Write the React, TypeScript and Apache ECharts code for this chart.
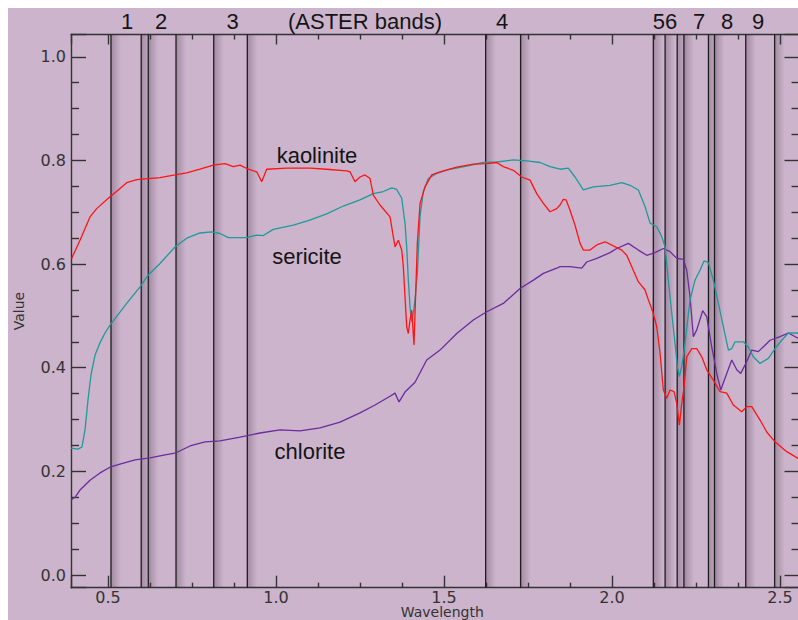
import React, { useEffect, useRef } from "react";
import * as echarts from "echarts";

// ---- data ----
const wavelengthTickStep = 0.5;
const valueTickStep = 0.2;
const minorSplit = 4;

const asterBandEdges = [0.509, 0.599, 0.62, 0.7025, 0.8147, 0.9147, 1.624, 1.728, 2.123, 2.158, 2.194, 2.214, 2.287, 2.305, 2.398, 2.484];
const asterBandNames = ["1", "2", "3", "(ASTER bands)", "4", "56", "7", "8", "9"];
const mineralNames = ["kaolinite", "sericite", "chlorite"];

const kaolinite = [
  [0.392, 0.611], [0.4168, 0.646], [0.4465, 0.691], [0.4665, 0.707], [0.506, 0.73], [0.5308, 0.743],
  [0.5558, 0.757], [0.5855, 0.763], [0.62, 0.765], [0.655, 0.767], [0.6995, 0.772], [0.7343, 0.776],
  [0.7739, 0.783], [0.8135, 0.791], [0.8483, 0.794], [0.873, 0.788], [0.893, 0.791], [0.9177, 0.783],
  [0.9427, 0.778], [0.9576, 0.759], [0.9724, 0.783], [1.032, 0.785], [1.1013, 0.785], [1.151, 0.783],
  [1.2105, 0.78], [1.2204, 0.778], [1.2352, 0.759], [1.2501, 0.768], [1.265, 0.772], [1.2799, 0.765],
  [1.2897, 0.733], [1.3096, 0.714], [1.3394, 0.691], [1.3492, 0.653], [1.3543, 0.633], [1.3641, 0.646],
  [1.3742, 0.627], [1.379, 0.595], [1.384, 0.537], [1.389, 0.479], [1.3939, 0.466], [1.3989, 0.492],
  [1.404, 0.511], [1.4108, 0.444], [1.4138, 0.505], [1.4207, 0.64], [1.4287, 0.717], [1.4436, 0.749],
  [1.4635, 0.772], [1.4882, 0.778], [1.5379, 0.787], [1.5873, 0.793], [1.6272, 0.794], [1.657, 0.796],
  [1.6766, 0.788], [1.7064, 0.781], [1.7314, 0.768], [1.7561, 0.762], [1.776, 0.736], [1.7957, 0.717],
  [1.8156, 0.701], [1.8355, 0.707], [1.8454, 0.714], [1.8552, 0.725], [1.8632, 0.724], [1.8751, 0.704],
  [1.89, 0.675], [1.9049, 0.64], [1.9147, 0.627], [1.9346, 0.627], [1.9546, 0.637], [1.9793, 0.643],
  [2.004, 0.635], [2.029, 0.627], [2.0439, 0.617], [2.0588, 0.595], [2.0784, 0.566], [2.0983, 0.55],
  [2.1082, 0.531], [2.1213, 0.508], [2.1332, 0.479], [2.143, 0.428], [2.1528, 0.357], [2.1629, 0.341],
  [2.1727, 0.357], [2.1846, 0.354], [2.1927, 0.331], [2.2004, 0.289], [2.2076, 0.331], [2.2144, 0.363],
  [2.2224, 0.421], [2.2373, 0.437], [2.2522, 0.437], [2.2671, 0.421], [2.282, 0.396], [2.3016, 0.376],
  [2.3215, 0.354], [2.3415, 0.351], [2.3611, 0.328], [2.3861, 0.315], [2.401, 0.325], [2.4159, 0.325],
  [2.4406, 0.299], [2.4605, 0.276], [2.4852, 0.257], [2.52, 0.238], [2.5537, 0.225],
];

const sericite = [
  [0.39, 0.245], [0.4108, 0.243], [0.4227, 0.247], [0.4317, 0.28], [0.4406, 0.338], [0.4495, 0.386],
  [0.4614, 0.424], [0.4763, 0.448], [0.4912, 0.467], [0.5061, 0.482], [0.5558, 0.524], [0.5954, 0.556],
  [0.62, 0.579], [0.6549, 0.601], [0.6995, 0.633], [0.7343, 0.65], [0.7739, 0.66], [0.8088, 0.662],
  [0.8335, 0.659], [0.8582, 0.651], [0.9129, 0.651], [0.9427, 0.656], [0.9623, 0.655], [0.9921, 0.667],
  [1.0516, 0.675], [1.0963, 0.684], [1.151, 0.697], [1.2004, 0.712], [1.2501, 0.724], [1.2897, 0.736],
  [1.3195, 0.74], [1.3445, 0.747], [1.3593, 0.744], [1.3742, 0.727], [1.384, 0.679], [1.389, 0.633],
  [1.3939, 0.569], [1.3989, 0.518], [1.404, 0.489], [1.4088, 0.505], [1.4138, 0.531], [1.4207, 0.582],
  [1.4287, 0.691], [1.4385, 0.74], [1.4534, 0.765], [1.4784, 0.775], [1.518, 0.783], [1.5677, 0.789],
  [1.6171, 0.796], [1.657, 0.797], [1.7064, 0.801], [1.7463, 0.799], [1.7859, 0.796], [1.8156, 0.788],
  [1.8454, 0.783], [1.87, 0.785], [1.89, 0.768], [1.9147, 0.743], [1.9445, 0.749], [1.9942, 0.752],
  [2.029, 0.757], [2.0537, 0.752], [2.0784, 0.743], [2.0983, 0.711], [2.1133, 0.679], [2.1332, 0.672],
  [2.148, 0.653], [2.1579, 0.633], [2.1677, 0.569], [2.1778, 0.505], [2.1876, 0.447], [2.1945, 0.402],
  [2.2004, 0.383], [2.2076, 0.402], [2.2173, 0.447], [2.2322, 0.531], [2.2471, 0.569], [2.2619, 0.588],
  [2.2739, 0.606], [2.2867, 0.603], [2.3016, 0.569], [2.3166, 0.524], [2.3315, 0.479], [2.3464, 0.434],
  [2.3564, 0.437], [2.3662, 0.45], [2.3911, 0.45], [2.4058, 0.44], [2.4207, 0.421], [2.4406, 0.408],
  [2.4653, 0.418], [2.4852, 0.437], [2.5051, 0.453], [2.5248, 0.467], [2.5537, 0.467],
];

const chlorite = [
  [0.39, 0.145], [0.4019, 0.15], [0.4168, 0.164], [0.4465, 0.183], [0.4763, 0.197], [0.5061, 0.208],
  [0.5358, 0.214], [0.5805, 0.222], [0.6251, 0.226], [0.6698, 0.232], [0.6995, 0.235], [0.7442, 0.249],
  [0.7888, 0.257], [0.8335, 0.259], [0.893, 0.266], [0.9525, 0.274], [1.012, 0.28], [1.0715, 0.278],
  [1.1311, 0.284], [1.1906, 0.295], [1.2501, 0.313], [1.2948, 0.328], [1.3394, 0.345], [1.3543, 0.351],
  [1.3662, 0.334], [1.384, 0.353], [1.4138, 0.372], [1.4486, 0.415], [1.4882, 0.434], [1.5379, 0.466],
  [1.5873, 0.492], [1.6272, 0.508], [1.6766, 0.524], [1.7263, 0.553], [1.7661, 0.569], [1.7957, 0.582],
  [1.8355, 0.592], [1.8454, 0.595], [1.8751, 0.595], [1.91, 0.592], [1.9248, 0.604], [1.9546, 0.611],
  [1.9942, 0.622], [2.0141, 0.63], [2.0486, 0.64], [2.0784, 0.627], [2.1034, 0.617], [2.1281, 0.622],
  [2.1528, 0.63], [2.1727, 0.624], [2.1927, 0.611], [2.2123, 0.609], [2.2224, 0.588], [2.2322, 0.537],
  [2.2421, 0.46], [2.2522, 0.473], [2.2699, 0.51], [2.282, 0.498], [2.2968, 0.44], [2.3117, 0.389],
  [2.3237, 0.357], [2.3365, 0.38], [2.3564, 0.415], [2.3713, 0.396], [2.3832, 0.389], [2.401, 0.412],
  [2.4159, 0.434], [2.4355, 0.431], [2.4704, 0.453], [2.5001, 0.46], [2.5248, 0.467], [2.5537, 0.457],
];

const X_MIN = 0.39;
const X_MAX = 2.558;
const Y_MIN = -0.0245;
const Y_MAX = 1.043;
const SHADE_WIDTH = 0.03;

export default function App() {
  const ref = useRef<HTMLDivElement>(null);

  useEffect(() => {
    if (!ref.current) return;
    const chart = echarts.init(ref.current, undefined, { renderer: "svg" });
    const axisColor = "#333333";
    const labelFont = "DejaVu Sans";
    const textFont = "Liberation Sans";

    const axisBase = (
      position: string,
      min: number,
      max: number,
      step: number,
      majorLen: number,
      minorLen: number,
      showLabel: boolean,
      labelMargin: number
    ) => ({
      type: "value",
      position,
      min,
      max,
      splitNumber: Math.round((max - min) / step),
      splitLine: { show: false },
      minorSplitLine: { show: false },
      axisLine: { show: true, onZero: false, lineStyle: { color: axisColor, width: 1.4 } },
      axisTick: { show: true, inside: true, length: majorLen, lineStyle: { color: axisColor, width: 1.4 } },
      minorTick: { show: true, splitNumber: minorSplit, length: minorLen, lineStyle: { color: axisColor, width: 1.4 } },
      axisLabel: {
        show: showLabel,
        margin: labelMargin,
        color: axisColor,
        fontFamily: labelFont,
        fontSize: 16,
        lineHeight: 14,
        showMinLabel: false,
        formatter: (v: number) => {
          const r = Math.round(v / step) * step;
          return Math.abs(r - v) < 1e-6 ? r.toFixed(1) : "";
        },
      },
    });

    const xAxes = [
      {
        ...axisBase("bottom", X_MIN, X_MAX, wavelengthTickStep, 12, 5, true, 3),
        name: "Wavelength",
        nameLocation: "middle",
        nameGap: 18,
        nameMoveOverlap: false,
        nameTextStyle: {
          fontFamily: labelFont,
          fontSize: 14,
          lineHeight: 13,
          color: axisColor,
          verticalAlign: "top",
          padding: [0, 0, 0, 14],
        },
      },
      axisBase("top", X_MIN, X_MAX, wavelengthTickStep, 10, 5, false, 3),
    ];
    const yAxes = [
      {
        ...axisBase("left", Y_MIN, Y_MAX, valueTickStep, 15, 8, true, 5),
        name: "Value",
        nameLocation: "middle",
        nameGap: 45,
        nameRotate: 90,
        nameTextStyle: { fontFamily: labelFont, fontSize: 14, color: axisColor },
      },
      axisBase("right", Y_MIN, Y_MAX, valueTickStep, 15, 8, false, 5),
    ];

    const lineSeries = (name: string, data: number[][], color: string) => ({
      type: "line",
      name,
      data,
      xAxisIndex: 0,
      yAxisIndex: 0,
      showSymbol: false,
      symbol: "none",
      smooth: false,
      silent: true,
      z: 3,
      lineStyle: { color, width: 1.3 },
    });

    // soft shading on the right of each band edge
    const shadeSeries = {
      type: "line",
      name: "band-shade",
      data: [[X_MIN, Y_MIN]],
      xAxisIndex: 0,
      yAxisIndex: 0,
      showSymbol: false,
      symbol: "none",
      silent: true,
      z: 1,
      lineStyle: { width: 0, opacity: 0 },
      markArea: {
        silent: true,
        label: { show: false },
        itemStyle: {
          color: new echarts.graphic.LinearGradient(0, 0, 1, 0, [
            { offset: 0, color: "rgba(70,40,70,0.30)" },
            { offset: 1, color: "rgba(70,40,70,0)" },
          ]),
        },
        data: asterBandEdges.map((w) => [{ xAxis: w }, { xAxis: w + SHADE_WIDTH }]),
      },
    };

    const bandSeries = asterBandEdges.map((w) => ({
      type: "line",
      name: "band-edge",
      data: [
        [w, Y_MIN],
        [w, Y_MAX],
      ],
      xAxisIndex: 0,
      yAxisIndex: 0,
      showSymbol: false,
      symbol: "none",
      silent: true,
      z: 2,
      lineStyle: { color: "#1e1e1e", width: 1.3 },
    }));

    const labelText = (text: string, x: number, y: number) => ({
      type: "text",
      x,
      y,
      silent: true,
      z: 10,
      style: {
        text,
        fill: "#141414",
        font: `22px "${textFont}"`,
        textAlign: "center",
        textVerticalAlign: "middle",
      },
    });

    const bandLabelX = [119, 153, 224.5, 357, 494, 657, 691, 719, 750];

    chart.setOption({
      animation: false,
      backgroundColor: "#ccb4cc",
      grid: {
        left: 63,
        top: 26.5,
        width: 728.5,
        height: 553.2,
        containLabel: false,
        outerBoundsMode: "none",
      },
      xAxis: xAxes,
      yAxis: yAxes,
      series: [
        shadeSeries,
        ...bandSeries,
        lineSeries(mineralNames[2], chlorite, "#6a2c9e"),
        lineSeries(mineralNames[1], sericite, "#1f9a9a"),
        lineSeries(mineralNames[0], kaolinite, "#ff1414"),
      ],
      graphic: [
        ...asterBandNames.map((t, i) => labelText(t, bandLabelX[i], 13.5)),
        labelText(mineralNames[0], 309, 147),
        labelText(mineralNames[1], 299, 248),
        labelText(mineralNames[2], 302, 443),
      ],
    });

    return () => chart.dispose();
  }, []);

  return (
    <div
      ref={ref}
      style={{ position: "absolute", left: 8, top: 8, width: 790, height: 612 }}
    />
  );
}
